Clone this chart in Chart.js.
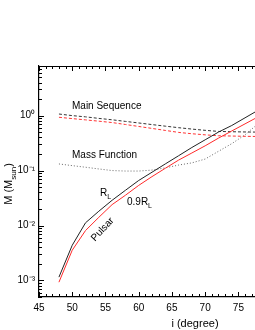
<!DOCTYPE html>
<html>
<head>
<meta charset="utf-8">
<script src="https://cdn.jsdelivr.net/npm/chart.js@4"></script>
<style>
  html, body { margin: 0; padding: 0; background: #fff; }
</style>
</head>
<body>
<canvas id="myChart" width="255" height="330"></canvas>
<script>
const incl = [48, 50, 52, 54, 56, 58, 60, 62, 64, 66, 68, 70, 72, 74, 76, 78];
const rocheLobe = [0.00115, 0.00437, 0.0112, 0.0182, 0.0288, 0.0437, 0.066, 0.0933, 0.132, 0.186, 0.263, 0.363, 0.501, 0.661, 0.912, 1.26];
const rocheLobe09 = [0.00093, 0.00355, 0.0081, 0.0141, 0.024, 0.0355, 0.0537, 0.0776, 0.11, 0.155, 0.209, 0.282, 0.389, 0.525, 0.708, 0.955];
const mainSeq = [1.07, 1.0, 0.95, 0.89, 0.84, 0.785, 0.735, 0.687, 0.643, 0.603, 0.569, 0.54, 0.516, 0.509, 0.504, 0.501];
const mainSeq09 = [0.933, 0.883, 0.837, 0.792, 0.748, 0.69, 0.635, 0.585, 0.538, 0.495, 0.468, 0.447, 0.43, 0.425, 0.42, 0.417];
const massFunction = [0.132, 0.123, 0.115, 0.107, 0.1, 0.098, 0.098, 0.102, 0.112, 0.126, 0.138, 0.162, 0.224, 0.309, 0.447, 0.72];
const xTicks = [45, 50, 55, 60, 65, 70, 75];
const yTicks = [0.001, 0.01, 0.1, 1];
const yTickLabels = ["10\u207B\u00B3", "10\u207B\u00B2", "10\u207B\u00B9", "10\u2070"];

const FONT = "'Liberation Sans', Arial, sans-serif";

function pts(ys) {
  return incl.map((v, i) => ({ x: v, y: ys[i] }));
}

// text with a subscript part
function subText(ctx, x, y, main, sub, size) {
  ctx.font = size + "px " + FONT;
  ctx.fillText(main, x, y);
  const w = ctx.measureText(main).width;
  ctx.font = Math.round(size * 0.7) + "px " + FONT;
  ctx.fillText(sub, x + w, y + size * 0.35);
}

const frameTicks = {
  id: "frameTicks",
  afterDraw(chart) {
    const { ctx, chartArea: a, scales } = chart;
    const x = scales.x, y = scales.y;
    ctx.save();
    ctx.strokeStyle = "#000";
    ctx.lineWidth = 1;
    ctx.beginPath();
    ctx.moveTo(a.left, a.top + 0.5);
    ctx.lineTo(a.right, a.top + 0.5);
    for (let v = 45; v <= 77; v++) {
      const px = Math.round(x.getPixelForValue(v)) + 0.5;
      const len = v % 5 === 0 ? 5 : 3;
      ctx.moveTo(px, a.bottom);
      ctx.lineTo(px, a.bottom - len);
      ctx.moveTo(px, a.top);
      ctx.lineTo(px, a.top + len);
    }
    for (let e = -4; e <= 0; e++) {
      for (let m = 1; m <= 9; m++) {
        const v = m * Math.pow(10, e);
        if (v < y.min || v > y.max) continue;
        const py = Math.round(y.getPixelForValue(v)) + 0.5;
        const len = m === 1 ? 5 : 3;
        ctx.moveTo(a.left, py);
        ctx.lineTo(a.left + len, py);
      }
    }
    ctx.stroke();

    // annotations
    ctx.fillStyle = "#000";
    ctx.textAlign = "left";
    ctx.textBaseline = "alphabetic";
    ctx.font = "10px " + FONT;
    ctx.fillText("Main Sequence", 72, 109);
    ctx.fillText("Mass Function", 72, 157.5);
    subText(ctx, 100, 195.5, "R", "L", 10);
    subText(ctx, 127, 204.5, "0.9R", "L", 10);

    ctx.save();
    ctx.translate(102, 229);
    ctx.rotate(-47 * Math.PI / 180);
    ctx.textAlign = "center";
    ctx.font = "10px " + FONT;
    ctx.fillText("Pulsar", 0, 3.5);
    ctx.restore();

    // axis titles
    ctx.font = "11px " + FONT;
    ctx.textAlign = "center";
    ctx.fillText("i (degree)", 195, 327);

    ctx.save();
    ctx.translate(12, 184);
    ctx.rotate(-Math.PI / 2);
    ctx.textAlign = "left";
    const t1 = "M (M", t2 = "sun", t3 = ")";
    ctx.font = "11px " + FONT;
    const w1 = ctx.measureText(t1).width, w3 = ctx.measureText(t3).width;
    ctx.font = "8px " + FONT;
    const w2 = ctx.measureText(t2).width;
    let sx = -(w1 + w2 + w3) / 2;
    ctx.font = "11px " + FONT;
    ctx.fillText(t1, sx, 0);
    ctx.font = "8px " + FONT;
    ctx.fillText(t2, sx + w1, 3.5);
    ctx.font = "11px " + FONT;
    ctx.fillText(t3, sx + w1 + w2, 0);
    ctx.restore();

    ctx.restore();
  }
};

const ctx1 = document.getElementById("myChart").getContext("2d");
new Chart(ctx1, {
  type: "line",
  data: {
    datasets: [
      {
        label: "R_L",
        data: pts(rocheLobe),
        borderColor: "#222222",
        borderWidth: 1,
        pointRadius: 0,
      },
      {
        label: "0.9R_L",
        data: pts(rocheLobe09),
        borderColor: "#ff2a2a",
        borderWidth: 1,
        pointRadius: 0,
      },
      {
        label: "Main Sequence",
        data: pts(mainSeq),
        borderColor: "#333333",
        borderWidth: 1,
        borderDash: [3, 2],
        pointRadius: 0,
      },
      {
        label: "Main Sequence 0.9",
        data: pts(mainSeq09),
        borderColor: "#ff3333",
        borderWidth: 1,
        borderDash: [3, 2],
        pointRadius: 0,
      },
      {
        label: "Mass Function",
        data: pts(massFunction),
        borderColor: "#666666",
        borderWidth: 1,
        borderDash: [1, 2],
        pointRadius: 0,
      },
    ],
  },
  options: {
    responsive: false,
    animation: false,
    layout: { padding: { top: 66, left: 0, right: 0, bottom: 0 } },
    plugins: {
      legend: { display: false },
      tooltip: { enabled: false },
    },
    scales: {
      x: {
        type: "linear",
        min: 45,
        max: 77.5,
        afterFit: (scale) => { scale.height = 33; },
        afterBuildTicks: (scale) => { scale.ticks = xTicks.map((v) => ({ value: v })); },
        grid: { display: false, drawTicks: false },
        border: { display: true, color: "#000", width: 1.2 },
        ticks: {
          padding: 5,
          color: "#000",
          font: { family: FONT, size: 10 },
          maxRotation: 0,
          autoSkip: false,
        },
      },
      y: {
        type: "logarithmic",
        min: 0.0005,
        max: 8,
        afterFit: (scale) => { scale.width = 39; },
        afterBuildTicks: (scale) => { scale.ticks = yTicks.map((v) => ({ value: v })); },
        grid: { display: false, drawTicks: false },
        border: { display: true, color: "#000", width: 1.2 },
        ticks: {
          padding: 4,
          color: "#000",
          font: { family: FONT, size: 10 },
          autoSkip: false,
          callback: (v) => {
            const i = yTicks.findIndex((t) => Math.abs(t - v) / t < 1e-6);
            return i >= 0 ? yTickLabels[i] : "";
          },
        },
      },
    },
  },
  plugins: [frameTicks],
});
</script>
</body>
</html>
